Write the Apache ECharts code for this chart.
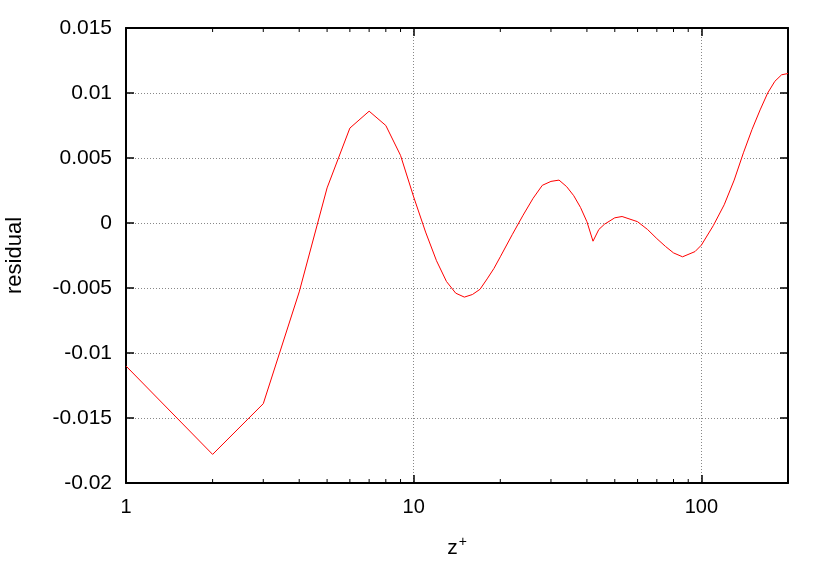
<!DOCTYPE html>
<html><head><meta charset="utf-8">
<script src="https://cdn.jsdelivr.net/npm/echarts@6/dist/echarts.min.js"></script>
<style>html,body{margin:0;padding:0;background:#fff}#c{width:830px;height:581px}</style>
</head><body><div id="c"></div>
<script>
const zPlus = [1,2,3,4,5,6,7,8,9,10,11,12,13,14,15,16,17,18,19,20,22,24,26,28,30,32,34,36,38,40,42,44,46,50,53,60,65,70,75,80,86,95,100,110,120,130,140,150,160,170,180,190,200];
const residual = [-0.0110,-0.0178,-0.0139,-0.0053,0.0027,0.0073,0.0086,0.0075,0.0052,0.0020,-0.0007,-0.0029,-0.0045,-0.0054,-0.0057,-0.0055,-0.0051,-0.0043,-0.0035,-0.0026,-0.0009,0.0006,0.0019,0.0029,0.0032,0.0033,0.0028,0.0021,0.0012,0.0001,-0.0014,-0.0005,-0.0001,0.0004,0.0005,0.0001,-0.0005,-0.0012,-0.0018,-0.0023,-0.0026,-0.0022,-0.0017,-0.0002,0.0014,0.0033,0.0054,0.0072,0.0087,0.0100,0.0109,0.0114,0.0115];
const yMin = -0.02, yMax = 0.015, yStep = 0.005;
const xMin = 1, xMax = 200;
const minorTickValues = [2,3,4,5,6,7,8,9,20,30,40,50,60,70,80,90];

const FONT = 'Liberation Sans';
const chart = echarts.init(document.getElementById('c'), null, {renderer:'canvas'});
const axisLine = () => ({show:true, onZero:false, lineStyle:{color:'#000', width:2}});
const majorTick = () => ({show:true, inside:true, length:8, lineStyle:{color:'#000', width:1.5}});
const grid = () => ({show:true, lineStyle:{color:'#888', width:1, type:[1,2]}});

chart.setOption({
  animation:false,
  backgroundColor:'#fff',
  grid:{left:126, right:42, top:28, bottom:98, containLabel:false, outerBoundsMode:'none'},
  xAxis:[{
    type:'log', logBase:10, min:xMin, max:xMax, position:'bottom',
    axisLine:axisLine(), axisTick:majorTick(), splitLine:grid(),
    axisLabel:{color:'#000', fontFamily:FONT, fontSize:20, margin:14, showMaxLabel:false},
    name:'{a|z}{b|+}', nameLocation:'middle', nameGap:52,
    nameTextStyle:{rich:{a:{fontFamily:FONT, fontSize:21, color:'#000'}, b:{fontFamily:FONT, fontSize:14, color:'#000', verticalAlign:'top', padding:[0,0,12,1]}}}
  },{
    type:'log', logBase:10, min:xMin, max:xMax, position:'top',
    axisLine:axisLine(), axisTick:majorTick(), splitLine:{show:false}, axisLabel:{show:false}
  }],
  yAxis:[{
    type:'value', min:yMin, max:yMax, interval:yStep, position:'left',
    axisLine:axisLine(), axisTick:majorTick(), splitLine:grid(),
    axisLabel:{color:'#000', fontFamily:FONT, fontSize:21, margin:14},
    name:'residual', nameLocation:'middle', nameRotate:90, nameGap:100,
    nameTextStyle:{color:'#000', fontFamily:FONT, fontSize:22}
  },{
    type:'value', min:yMin, max:yMax, interval:yStep, position:'right',
    axisLine:axisLine(), axisTick:majorTick(), splitLine:{show:false}, axisLabel:{show:false}
  }],
  series:[{
    type:'line', xAxisIndex:0, yAxisIndex:0,
    data: zPlus.map((z,i)=>[z, residual[i]]),
    showSymbol:false, symbol:'none',
    lineStyle:{color:'#ff0000', width:1}, z:5
  },{
    type:'custom', xAxisIndex:0, yAxisIndex:0, silent:true, clip:false, z:10,
    data: minorTickValues.map(v=>[v, yMin]),
    renderItem(params, api){
      const v = api.value(0);
      const b = api.coord([v, yMin]);
      const t = api.coord([v, yMax]);
      return {type:'group', children:[
        {type:'line', shape:{x1:b[0], y1:b[1], x2:b[0], y2:b[1]-4}, style:{stroke:'#000', lineWidth:1}},
        {type:'line', shape:{x1:t[0], y1:t[1], x2:t[0], y2:t[1]+4}, style:{stroke:'#000', lineWidth:1}}
      ]};
    }
  }]
});
</script>
</body></html>
